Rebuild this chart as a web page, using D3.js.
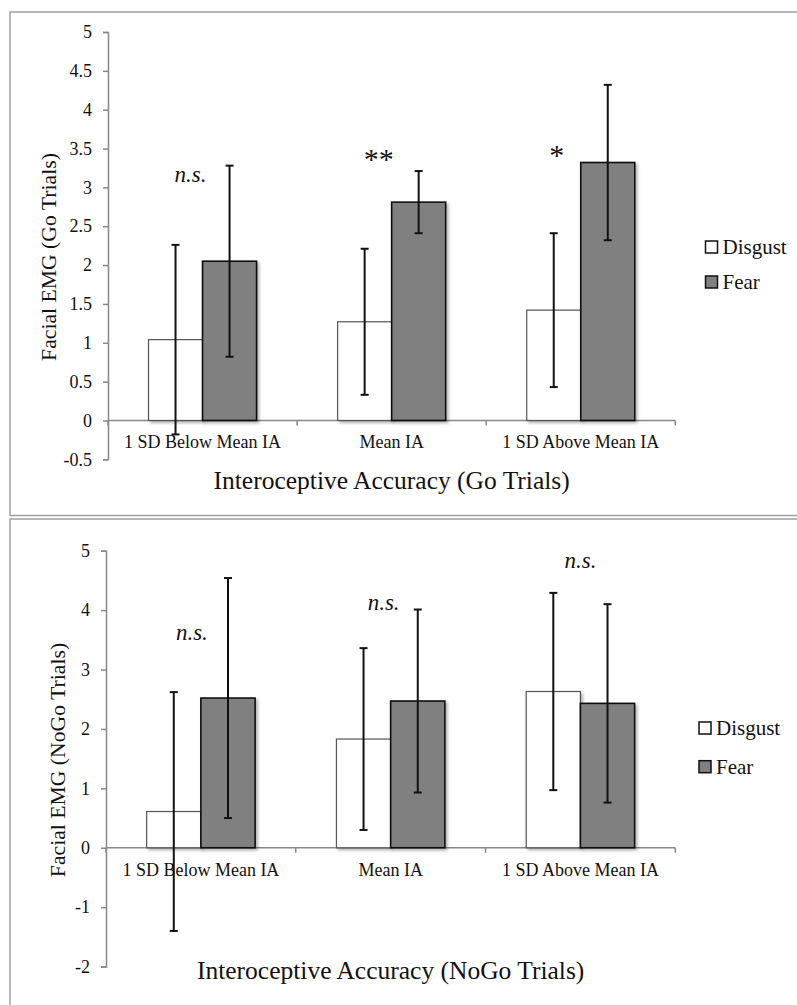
<!DOCTYPE html>
<html>
<head>
<meta charset="utf-8">
<script src="https://cdn.jsdelivr.net/npm/d3@7"></script>
<style>
  body { margin: 0; background: #fff; }
  svg text { font-family: "Liberation Serif", "Times New Roman", serif; }
</style>
</head>
<body>
<script>
// categories and series
var categories = ["1 SD Below Mean IA", "Mean IA", "1 SD Above Mean IA"];
var series = ["Disgust", "Fear"];

// Go trials
var goDisgust = [1.04, 1.27, 1.42];
var goDisgustErr = [1.22, 0.94, 0.99];
var goFear = [2.05, 2.81, 3.32];
var goFearErr = [1.23, 0.40, 1.00];
var goTicks = [-0.5, 0, 0.5, 1, 1.5, 2, 2.5, 3, 3.5, 4, 4.5, 5];
var goNotes = ["n.s.", "**", "*"];
var goNoteY = [3.07, 3.24, 3.29];

// NoGo trials
var nogoDisgust = [0.61, 1.83, 2.63];
var nogoDisgustErr = [2.01, 1.53, 1.66];
var nogoFear = [2.52, 2.47, 2.43];
var nogoFearErr = [2.02, 1.54, 1.67];
var nogoTicks = [-2, -1, 0, 1, 2, 3, 4, 5];
var nogoNotes = ["n.s.", "n.s.", "n.s."];
var nogoNoteY = [3.5, 4.0, 4.71];

var FONT = "'Liberation Serif', 'Times New Roman', serif";

var svg = d3.select("body").append("svg")
    .attr("width", 797).attr("height", 1005)
    .style("display", "block");

var defs = svg.append("defs");
defs.append("filter").attr("id", "shadow")
    .attr("x", "-20%").attr("y", "-20%").attr("width", "150%").attr("height", "150%")
  .append("feDropShadow")
    .attr("dx", 2).attr("dy", 2).attr("stdDeviation", 1.5)
    .attr("flood-color", "#000").attr("flood-opacity", 0.3);

// panel frames
svg.append("rect").attr("x", 10).attr("y", 12).attr("width", 800).attr("height", 503.5)
    .attr("fill", "none").attr("stroke", "#a0a0a0").attr("stroke-width", 1.5);
svg.append("rect").attr("x", 10).attr("y", 519).attr("width", 800).attr("height", 500)
    .attr("fill", "none").attr("stroke", "#a0a0a0").attr("stroke-width", 1.5);

function drawChart(cfg) {
    var g = svg.append("g");

    var x0 = d3.scaleBand().domain(categories)
        .range([cfg.left, cfg.right])
        .paddingInner(0.4286).paddingOuter(0.2143);
    var x1 = d3.scaleBand().domain(series).range([0, x0.bandwidth()]);
    var y = d3.scaleLinear().domain(cfg.domain).range([cfg.bottom, cfg.top]);

    // y axis
    var yAxis = g.append("g")
        .attr("transform", "translate(" + cfg.left + ",0)")
        .call(d3.axisLeft(y).tickValues(cfg.ticks).tickSize(5).tickPadding(11)
            .tickFormat(function(d) { return String(d); }));
    yAxis.attr("font-family", FONT).attr("font-size", 18);
    yAxis.select(".domain").attr("stroke", "#888").attr("stroke-width", 1.5);
    yAxis.selectAll(".tick line").attr("stroke", "#888").attr("stroke-width", 1.5);
    yAxis.selectAll(".tick text").attr("fill", "#111")
        .style("font-family", FONT).style("font-size", "18px");

    // x axis at zero
    var step = x0.step();
    var bounds = d3.range(categories.length + 1).map(function(i) { return cfg.left + i * step; });
    var xAxis = g.append("g");
    xAxis.append("line")
        .attr("x1", cfg.left).attr("x2", cfg.right)
        .attr("y1", y(0)).attr("y2", y(0))
        .attr("stroke", "#888").attr("stroke-width", 1.5);
    xAxis.selectAll(".xt").data(bounds).enter().append("line")
        .attr("x1", function(d) { return d; }).attr("x2", function(d) { return d; })
        .attr("y1", y(0)).attr("y2", y(0) + 5)
        .attr("stroke", "#888").attr("stroke-width", 1.5);

    // bars
    var rows = categories.map(function(c, i) {
        return [
            { cat: c, s: "Disgust", v: cfg.disgust[i], e: cfg.disgustErr[i] },
            { cat: c, s: "Fear", v: cfg.fear[i], e: cfg.fearErr[i] }
        ];
    });
    var flat = [].concat.apply([], rows);

    g.selectAll(".bar").data(flat).enter().append("rect")
        .attr("x", function(d) { return x0(d.cat) + x1(d.s); })
        .attr("y", function(d) { return y(d.v); })
        .attr("width", x1.bandwidth())
        .attr("height", function(d) { return y(0) - y(d.v); })
        .attr("fill", function(d) { return d.s === "Fear" ? "#808080" : "#fff"; })
        .attr("stroke", function(d) { return d.s === "Fear" ? "#111" : "#555"; })
        .attr("stroke-width", function(d) { return d.s === "Fear" ? 1.6 : 1.2; })
        .attr("filter", "url(#shadow)");

    // category labels
    g.selectAll(".cat").data(categories).enter().append("text")
        .attr("x", function(d) { return x0(d) + x0.bandwidth() / 2; })
        .attr("y", y(0) + 28)
        .attr("text-anchor", "middle")
        .style("font-family", FONT).style("font-size", "18px").attr("fill", "#111")
        .text(function(d) { return d; });

    // error bars
    var eb = g.selectAll(".err").data(flat).enter().append("g")
        .attr("stroke", "#111").attr("stroke-width", 2);
    var cx = function(d) { return x0(d.cat) + x1(d.s) + x1.bandwidth() / 2; };
    eb.append("line")
        .attr("x1", cx).attr("x2", cx)
        .attr("y1", function(d) { return y(d.v + d.e); })
        .attr("y2", function(d) { return y(d.v - d.e); });
    eb.append("line")
        .attr("x1", function(d) { return cx(d) - 4; }).attr("x2", function(d) { return cx(d) + 4; })
        .attr("y1", function(d) { return y(d.v + d.e); })
        .attr("y2", function(d) { return y(d.v + d.e); });
    eb.append("line")
        .attr("x1", function(d) { return cx(d) - 4; }).attr("x2", function(d) { return cx(d) + 4; })
        .attr("y1", function(d) { return y(d.v - d.e); })
        .attr("y2", function(d) { return y(d.v - d.e); });

    // significance notes
    g.selectAll(".note").data(cfg.notes).enter().append("text")
        .attr("x", function(d, i) { return x0(categories[i]) + x0.bandwidth() / 2 + cfg.noteDx[i]; })
        .attr("y", function(d, i) { return y(cfg.noteY[i]); })
        .attr("text-anchor", "middle")
        .style("font-family", FONT)
        .style("font-size", function(d) { return d === "n.s." ? "23px" : "30px"; })
        .style("font-style", function(d) { return d === "n.s." ? "italic" : "normal"; })
        .attr("fill", "#111")
        .text(function(d) { return d; });

    // axis titles
    g.append("text")
        .attr("transform", "translate(" + cfg.yTitleX + "," + cfg.yTitleY + ") rotate(-90)")
        .attr("text-anchor", "middle").attr("dominant-baseline", "central")
        .style("font-family", FONT).style("font-size", "21.7px").attr("fill", "#111")
        .text(cfg.yTitle);
    g.append("text")
        .attr("x", (cfg.left + cfg.right) / 2).attr("y", cfg.xTitleY)
        .attr("text-anchor", "middle")
        .style("font-family", FONT).style("font-size", "25.5px").attr("fill", "#111")
        .text(cfg.xTitle);

    // legend
    var lg = g.selectAll(".leg").data(series).enter().append("g")
        .attr("transform", function(d, i) {
            return "translate(" + cfg.legX + "," + (cfg.legY + i * cfg.legGap) + ")";
        });
    lg.append("rect")
        .attr("x", 0).attr("y", -6).attr("width", 12).attr("height", 12)
        .attr("fill", function(d) { return d === "Fear" ? "#808080" : "#fff"; })
        .attr("stroke", "#111").attr("stroke-width", 1.5);
    lg.append("text")
        .attr("x", 17).attr("y", 0).attr("dominant-baseline", "central")
        .style("font-family", FONT).style("font-size", "21px").attr("fill", "#111")
        .text(function(d) { return d; });
}

drawChart({
    left: 108, right: 675.3, top: 32, bottom: 459.3,
    domain: [-0.5, 5], ticks: goTicks,
    disgust: goDisgust, disgustErr: goDisgustErr,
    fear: goFear, fearErr: goFearErr,
    notes: goNotes, noteY: goNoteY, noteDx: [-12, -13, -24],
    yTitle: "Facial EMG (Go Trials)", yTitleX: 49, yTitleY: 257,
    xTitle: "Interoceptive Accuracy (Go Trials)", xTitleY: 489,
    legX: 705.5, legY: 247, legGap: 35
});

drawChart({
    left: 106, right: 675.3, top: 550.7, bottom: 966.6,
    domain: [-2, 5], ticks: nogoTicks,
    disgust: nogoDisgust, disgustErr: nogoDisgustErr,
    fear: nogoFear, fearErr: nogoFearErr,
    notes: nogoNotes, noteY: nogoNoteY, noteDx: [-9, -7, 0],
    yTitle: "Facial EMG (NoGo Trials)", yTitleX: 58, yTitleY: 760,
    xTitle: "Interoceptive Accuracy (NoGo Trials)", xTitleY: 979,
    legX: 699, legY: 728, legGap: 38.7
});
</script>
</body>
</html>
